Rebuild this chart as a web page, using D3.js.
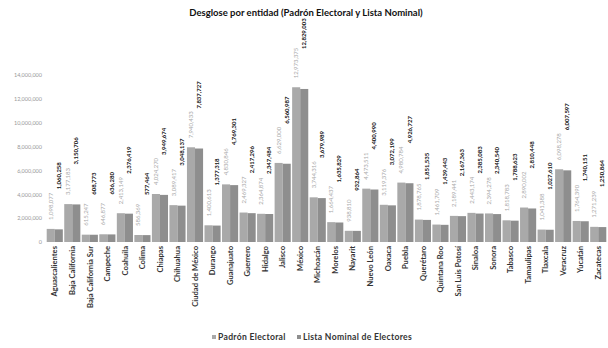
<!DOCTYPE html>
<html>
<head>
<meta charset="utf-8">
<script src="https://cdn.jsdelivr.net/npm/d3@7"></script>
<style>
  body { margin: 0; background: #fff; }
  svg { display: block; font-family: "Lato", "Noto Sans", sans-serif; }
</style>
</head>
<body>
<svg id="chart"></svg>
<script>
// DATA
const estados = ["Aguascalientes", "Baja California", "Baja California Sur", "Campeche", "Coahuila", "Colima",
  "Chiapas", "Chihuahua", "Ciudad de México", "Durango", "Guanajuato", "Guerrero", "Hidalgo", "Jalisco",
  "México", "Michoacán", "Morelos", "Nayarit", "Nuevo León", "Oaxaca", "Puebla", "Querétaro",
  "Quintana Roo", "San Luis Potosí", "Sinaloa", "Sonora", "Tabasco", "Tamaulipas", "Tlaxcala",
  "Veracruz", "Yucatán", "Zacatecas"];
const padron = [1098077, 3177183, 615247, 646877, 2413149, 586369, 4024270, 3089417, 7940433, 1400613,
  4830846, 2469327, 2364874, 6629000, 12973375, 3744316, 1664437, 938810, 4473511, 3119376, 4980784,
  1878765, 1461709, 2189441, 2443174, 2394278, 1818783, 2890002, 1041388, 6098278, 1764390, 1271239];
const lista = [1060258, 3150706, 608773, 636280, 2376419, 577464, 3949674, 3048137, 7837727, 1377318,
  4769301, 2417296, 2347484, 6560987, 12829003, 3679989, 1635829, 932864, 4400990, 3072199, 4926727,
  1851535, 1439443, 2167363, 2385083, 2340540, 1788623, 2810448, 1027610, 6007597, 1740151, 1250864];
const yTicks = [0, 2000000, 4000000, 6000000, 8000000, 10000000, 12000000, 14000000];
const series = ["Padrón Electoral", "Lista Nominal de Electores"];

const W = 608, H = 348;
const svg = d3.select("#chart").attr("width", W).attr("height", H);

//SCALES
const x = d3.scaleBand().domain(estados).range([46, 607]).paddingInner(0.08).paddingOuter(0.04);
const x1 = d3.scaleBand().domain(series).range([0, x.bandwidth()]);
const y = d3.scaleLinear().domain([0, 14000000]).range([242, 75]);
const colors = d3.scaleOrdinal().domain(series).range(["#a9a9a9", "#8e8e8e"]);
const fmt = d3.format(",");

//TITLE
svg.append("text")
  .attr("x", 306).attr("y", 16)
  .attr("text-anchor", "middle")
  .style("font-size", "9.5px").style("font-weight", "bold").style("fill", "#111")
  .text("Desglose por entidad (Padrón Electoral y Lista Nominal)");

//Y AXIS
const yAxis = svg.append("g")
  .attr("transform", "translate(42,0)")
  .call(d3.axisLeft(y).tickValues(yTicks).tickFormat(fmt).tickSize(0).tickPadding(0));
yAxis.select(".domain").remove();
yAxis.selectAll("text").style("font-size", "5.5px").style("fill", "#999").style("font-family", "Lato, sans-serif");

//X AXIS
const xAxis = svg.append("g")
  .attr("transform", "translate(0,243)")
  .call(d3.axisBottom(x).tickSize(0).tickPadding(0));
xAxis.select(".domain").remove();
xAxis.selectAll("text")
  .attr("transform", "rotate(-90)")
  .attr("text-anchor", "end")
  .attr("x", -3).attr("y", 0).attr("dy", "0.35em")
  .style("font-size", "7.6px").style("font-weight", "bold").style("fill", "#333")
  .style("font-family", "Lato, sans-serif");

//BARS
const rows = estados.map((e, i) => ({ e: e, vals: [padron[i], lista[i]] }));
const groups = svg.append("g").selectAll("g")
  .data(rows).enter().append("g")
  .attr("transform", d => "translate(" + x(d.e) + ",0)");

groups.selectAll("rect")
  .data(d => d.vals.map((v, k) => ({ s: series[k], v: v })))
  .enter().append("rect")
  .attr("x", d => x1(d.s))
  .attr("width", x1.bandwidth())
  .attr("y", d => y(d.v))
  .attr("height", d => y(0) - y(d.v))
  .attr("fill", d => colors(d.s));

//VALUE LABELS
groups.selectAll("text")
  .data(d => d.vals.map((v, k) => ({ s: series[k], v: v, k: k })))
  .enter().append("text")
  .attr("transform", d => "translate(" + (x1(d.s) + x1.bandwidth() / 2) + "," + (y(d.v) - (d.k === 0 ? 9 : 40)) + ") rotate(-90)")
  .attr("dy", "0.35em")
  .attr("text-anchor", "start")
  .style("font-size", "6px")
  .style("font-weight", d => d.k === 0 ? "normal" : "bold")
  .style("fill", d => d.k === 0 ? "#aaa" : "#111")
  .text(d => fmt(d.v));

//LEGEND
const legend = svg.append("g").attr("transform", "translate(212,340)");
const lx = [0, 85];
series.forEach((s, i) => {
  legend.append("rect").attr("x", lx[i]).attr("y", -5).attr("width", 4).attr("height", 4).attr("fill", colors(s));
  legend.append("text").attr("x", lx[i] + 6).attr("y", 0)
    .style("font-size", "8.6px").style("font-weight", "bold").style("fill", "#333")
    .style("letter-spacing", "0.3px")
    .text(s);
});
</script>
</body>
</html>
